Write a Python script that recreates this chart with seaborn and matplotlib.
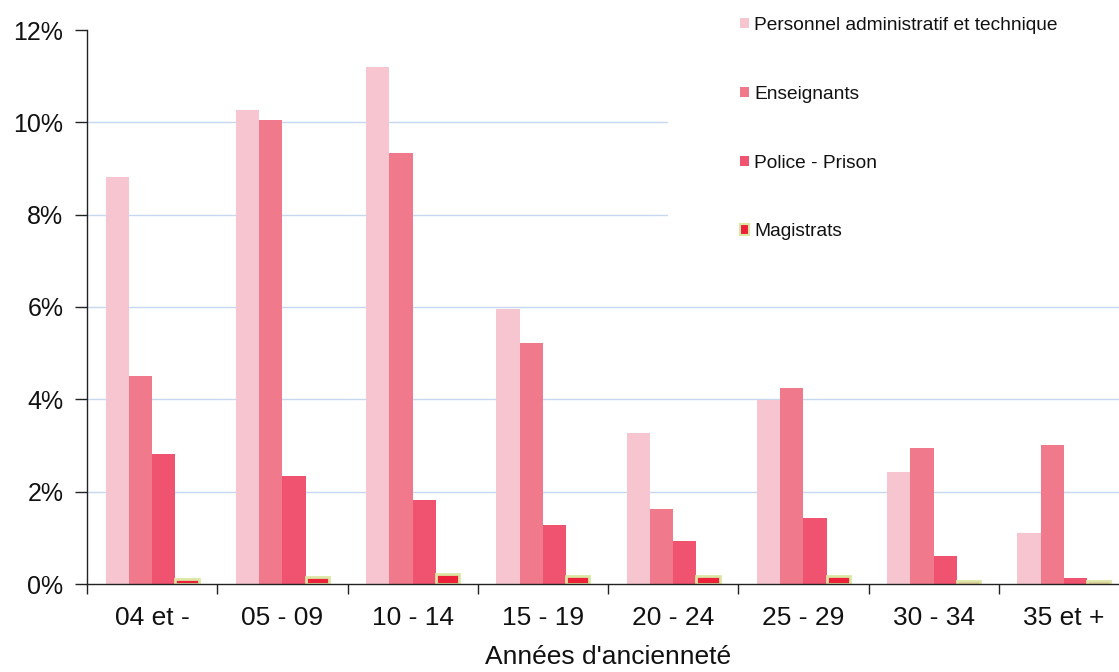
import matplotlib
matplotlib.use("Agg")
import matplotlib.pyplot as plt
from matplotlib.patches import Patch, Rectangle
from matplotlib.ticker import FuncFormatter, FixedLocator, NullFormatter
import pandas as pd
import seaborn as sns

# Ancienneté groups (years of service)
categories = ["04 et -", "05 - 09", "10 - 14", "15 - 19", "20 - 24", "25 - 29", "30 - 34", "35 et +"]

# Share of staff in each group, in percent
admin = [8.81, 10.26, 11.20, 5.96, 3.28, 3.99, 2.43, 1.10]
enseignants = [4.50, 10.05, 9.33, 5.22, 1.63, 4.25, 2.94, 3.02]
police = [2.81, 2.33, 1.81, 1.28, 0.93, 1.43, 0.61, 0.12]
magistrats = [0.10, 0.16, 0.22, 0.18, 0.17, 0.17, 0.07, 0.06]

series_names = ["Personnel administratif et technique", "Enseignants", "Police - Prison", "Magistrats"]
series_values = [admin, enseignants, police, magistrats]
colors = ["#f7c5cf", "#f07a8c", "#f0536f", "#ec2038"]
mag_edge = "#dce6a4"

rows = []
for name, vals in zip(series_names, series_values):
    for cat, v in zip(categories, vals):
        rows.append({"Ancienneté": cat, "Part": v, "Série": name})
df = pd.DataFrame(rows)

sns.set_theme(style="white")
plt.rcParams["font.family"] = ["Liberation Sans", "DejaVu Sans"]

fig = plt.figure(figsize=(11.19, 6.72), dpi=100)
ax = fig.add_axes([87 / 1119, 1 - 584 / 672, (1129 - 87) / 1119, (584 - 30) / 672])

sns.barplot(data=df, x="Ancienneté", y="Part", hue="Série", order=categories,
            hue_order=series_names, palette=colors, width=0.715, saturation=1,
            errorbar=None, legend=False, ax=ax, zorder=2)

# Plain fills for the first three series, pale outline for Magistrats
for cont in ax.containers[:3]:
    for bar in cont:
        bar.set_linewidth(0)
for bar in ax.containers[3]:
    bar.set_edgecolor(mag_edge)
    bar.set_linewidth(2.0)

ax.set_xlim(-0.5, 7.5)
ax.set_ylim(0, 12)
ax.yaxis.set_major_locator(FixedLocator([0, 2, 4, 6, 8, 10, 12]))
ax.yaxis.set_major_formatter(FuncFormatter(lambda v, p: f"{v:.0f}%"))

# Horizontal gridlines between 2% and 10%
ax.grid(False)
for level in [2, 4, 6, 8, 10]:
    ax.axhline(level, color="#c5d8f0", linewidth=1.0, zorder=0.5)

# Category labels centred, ticks at group boundaries
ax.set_xticks(range(len(categories)))
ax.set_xticklabels(categories, fontsize=19, color="#111111")
ax.tick_params(axis="x", which="major", length=0, pad=16)
ax.set_xticks([i - 0.5 for i in range(len(categories) + 1)], minor=True)
ax.xaxis.set_minor_formatter(NullFormatter())
ax.tick_params(axis="x", which="minor", direction="out", length=7, width=1, color="#222222", bottom=True)
ax.tick_params(axis="y", which="major", direction="out", length=9, width=1, color="#222222",
               labelsize=18, labelcolor="#111111", pad=8, left=True)

for side in ["top", "right"]:
    ax.spines[side].set_visible(False)
for side in ["left", "bottom"]:
    ax.spines[side].set_color("#222222")
    ax.spines[side].set_linewidth(1.0)

ax.set_ylabel("")
ax.set_xlabel("Années d'ancienneté", fontsize=19, color="#111111", labelpad=11)

# White legend area hiding the gridlines behind it
x0, y0 = ax.transAxes.inverted().transform(fig.transFigure.transform((668 / 1119, 1 - 250 / 672)))
ax.add_patch(Rectangle((x0, y0), 1.2 - x0, 1.2 - y0, transform=ax.transAxes,
                       facecolor="white", edgecolor="none", zorder=1, clip_on=False))

handles = [Patch(facecolor=colors[0], edgecolor="none"),
           Patch(facecolor=colors[1], edgecolor="none"),
           Patch(facecolor=colors[2], edgecolor="none"),
           Patch(facecolor=colors[3], edgecolor=mag_edge, linewidth=1.5)]
leg = fig.legend(handles, series_names, loc="upper left",
                 bbox_to_anchor=(740 / 1119, 1 - 17 / 672), frameon=False,
                 fontsize=13.8, handlelength=0.45, handleheight=0.45,
                 handletextpad=0.3, labelspacing=2.7, borderpad=0, borderaxespad=0)
for t in leg.get_texts():
    t.set_color("#111111")

fig.savefig("out.png", dpi=100)
